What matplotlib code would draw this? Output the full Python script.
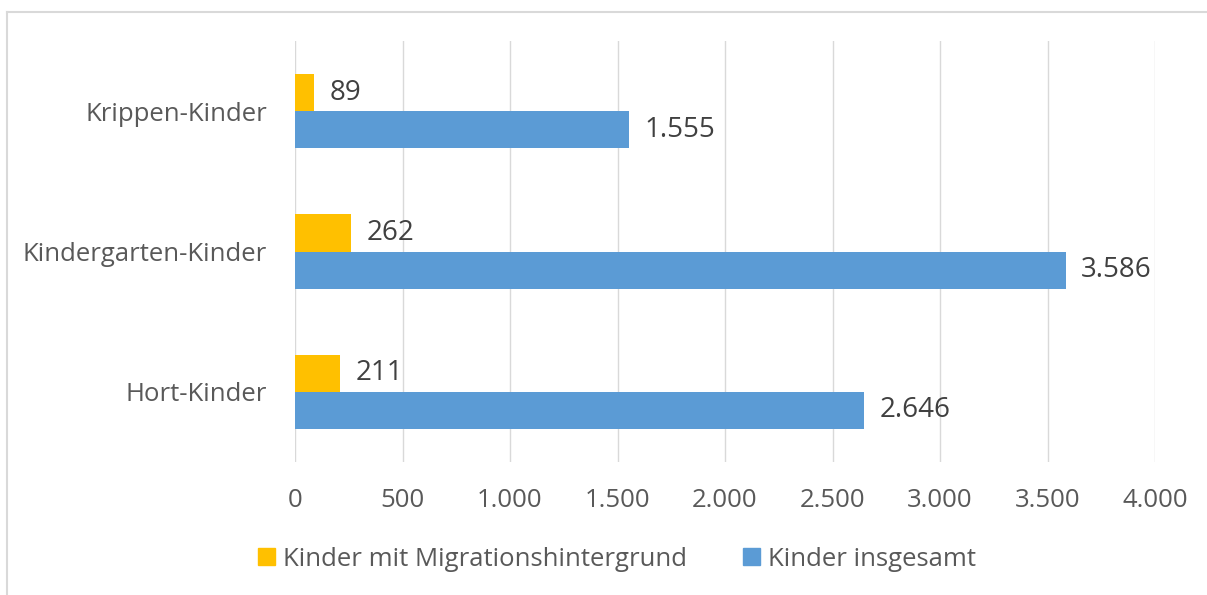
import numpy as np
from matplotlib import pyplot as plt
from matplotlib.lines import Line2D

# ---- data ----
categories = ["Krippen-Kinder", "Kindergarten-Kinder", "Hort-Kinder"]
migration = [89, 262, 211]
total = [1555, 3586, 2646]
series_names = ["Kinder mit Migrationshintergrund", "Kinder insgesamt"]
x_ticks = [0, 500, 1000, 1500, 2000, 2500, 3000, 3500, 4000]


def de_format(v):
    # German thousands separator
    return f"{int(v):,}".replace(",", ".")


plt.rcParams["font.family"] = ["Open Sans", "DejaVu Sans"]

W, H = 1207, 595
fig = plt.figure(figsize=(W / 100, H / 100), dpi=100)
ax = fig.add_axes([295 / W, 1 - 462 / H, (1155 - 295) / W, (462 - 41) / H])

yellow = "#FFC000"
blue = "#5B9BD5"
bar_h = 0.264
pos = np.arange(len(categories))
fs = 18.5
fs_lab = 20

ax.barh(pos - bar_h / 2, migration, height=bar_h, color=yellow, zorder=3)
ax.barh(pos + bar_h / 2, total, height=bar_h, color=blue, zorder=3)

for i in range(len(categories)):
    ax.annotate(de_format(migration[i]), (migration[i], pos[i] - bar_h / 2),
                xytext=(11, 0), textcoords="offset points", va="center",
                ha="left", fontsize=fs_lab, color="#404040")
    ax.annotate(de_format(total[i]), (total[i], pos[i] + bar_h / 2),
                xytext=(11, 0), textcoords="offset points", va="center",
                ha="left", fontsize=fs_lab, color="#404040")

ax.set_xlim(0, 4000)
ax.set_ylim(2.5, -0.5)
ax.set_xticks(x_ticks)
ax.set_xticklabels([de_format(t) for t in x_ticks])
ax.set_yticks(pos)
ax.set_yticklabels(categories)
ax.tick_params(axis="both", length=0, labelsize=fs, labelcolor="#595959")
ax.tick_params(axis="x", pad=19)
ax.tick_params(axis="y", pad=20)
ax.grid(axis="x", color="#D9D9D9", linewidth=1.0, zorder=0)
for s in ax.spines.values():
    s.set_visible(False)

handles = [plt.Rectangle((0, 0), 1, 1, color=yellow),
           plt.Rectangle((0, 0), 1, 1, color=blue)]
fig.legend(handles, series_names, loc="center", bbox_to_anchor=(617 / W, 1 - 559 / H),
           ncol=2, frameon=False, fontsize=fs, labelcolor="#595959",
           handlelength=0.66, handleheight=0.66, handletextpad=0.31,
           columnspacing=2.16, borderpad=0)

# outer chart border (only top and left visible in the crop)
fig.add_artist(Line2D([7 / W, 1.01], [1 - 12 / H, 1 - 12 / H], color="#D9D9D9", linewidth=1.5))
fig.add_artist(Line2D([7 / W, 7 / W], [-0.01, 1 - 12 / H], color="#D9D9D9", linewidth=1.5))

fig.savefig("out.png", dpi=100)
